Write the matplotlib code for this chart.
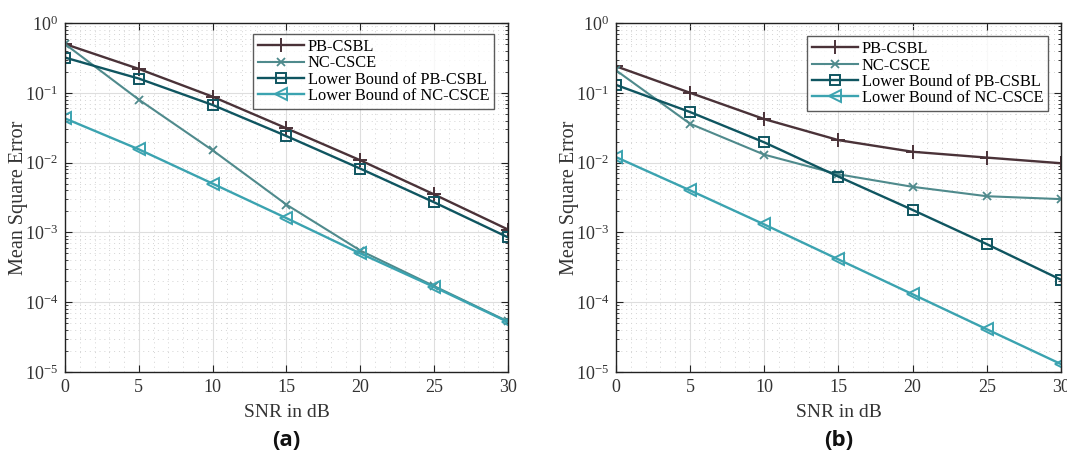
import matplotlib
matplotlib.use("Agg")
import matplotlib.pyplot as plt
from matplotlib.ticker import LogLocator, NullFormatter, FuncFormatter
import numpy as np

snr = [0, 5, 10, 15, 20, 25, 30]

# panel (a)
a_pb = [0.50, 0.22, 0.088, 0.031, 0.0108, 0.0035, 0.0011]
a_nc = [0.50, 0.080, 0.015, 0.0025, 0.00055, 0.00017, 5.3e-5]
a_lb_pb = [0.32, 0.16, 0.067, 0.024, 0.0082, 0.0027, 0.00085]
a_lb_nc = [0.043, 0.0155, 0.0050, 0.0016, 0.00050, 0.000165, 5.2e-5]

# panel (b)
b_pb = [0.24, 0.10, 0.042, 0.021, 0.0143, 0.0118, 0.0098]
b_nc = [0.21, 0.036, 0.013, 0.0068, 0.0045, 0.0033, 0.0030]
b_lb_pb = [0.13, 0.053, 0.0195, 0.0063, 0.0021, 0.00068, 0.00021]
b_lb_nc = [0.012, 0.0040, 0.0013, 0.00041, 0.00013, 4.1e-5, 1.3e-5]

labels = ["PB-CSBL", "NC-CSCE", "Lower Bound of PB-CSBL", "Lower Bound of NC-CSCE"]

plt.rcParams["font.family"] = ["Liberation Serif", "DejaVu Serif"]
plt.rcParams["mathtext.fontset"] = "custom"
plt.rcParams["mathtext.rm"] = "Liberation Serif"
plt.rcParams["mathtext.it"] = "Liberation Serif:italic"

styles = [
    dict(color="#4a3238", marker="+", ms=10, mew=1.4, lw=1.7),
    dict(color="#4f8a8c", marker="x", ms=5.5, mew=1.3, lw=1.5),
    dict(color="#0f5560", marker="s", ms=6.5, mew=1.4, mfc="none", lw=1.7),
    dict(color="#3ba3b0", marker="<", ms=9, mew=1.4, mfc="none", lw=1.7),
]


def pow_label(v, pos):
    k = int(round(np.log10(v)))
    return r"$\mathregular{10^{%d}}$" % k


fig = plt.figure(figsize=(10.67, 4.55), dpi=100)
ax_a = fig.add_axes([0.0609, 0.1824, 0.4152, 0.767])
ax_b = fig.add_axes([0.5773, 0.1824, 0.4170, 0.767])

panels = [
    (ax_a, [a_pb, a_nc, a_lb_pb, a_lb_nc], "(a)", (0.424, 0.968)),
    (ax_b, [b_pb, b_nc, b_lb_pb, b_lb_nc], "(b)", (0.429, 0.962)),
]

for ax, series, tag, anchor in panels:
    for ys, lab, st in zip(series, labels, styles):
        ax.plot(snr, ys, label=lab, **st)
    ax.set_yscale("log")
    ax.set_xlim(0, 30)
    ax.set_ylim(1e-5, 1)
    ax.set_xticks(snr)
    ax.yaxis.set_major_locator(LogLocator(base=10, numticks=10))
    ax.yaxis.set_major_formatter(FuncFormatter(pow_label))
    ax.yaxis.set_minor_locator(LogLocator(base=10, subs=range(2, 10), numticks=20))
    ax.yaxis.set_minor_formatter(NullFormatter())
    ax.set_xticks([v for v in range(31) if v % 5], minor=True)
    ax.grid(True, which="major", color="#dedede", lw=0.8, ls="-")
    ax.grid(True, which="minor", color="#d4d4d4", lw=0.7, ls=(0, (1, 4)))
    ax.set_axisbelow(True)
    ax.tick_params(which="both", direction="in", top=True, right=True,
                   labelsize=13, colors="#222222", labelcolor="#333333")
    ax.tick_params(which="major", length=5, pad=5)
    ax.tick_params(which="minor", length=2.5)
    ax.tick_params(axis="x", which="minor", length=0)
    for sp in ax.spines.values():
        sp.set_color("#222222")
        sp.set_linewidth(1.0)
    ax.set_xlabel("SNR in dB", fontsize=14, color="#333333", labelpad=6)
    ax.set_ylabel("Mean Square Error", fontsize=14.5, color="#333333")
    ax.yaxis.set_label_coords(-0.083, 0.5)
    leg = ax.legend(loc="upper left", bbox_to_anchor=anchor,
                    fontsize=11.8, frameon=True, fancybox=False,
                    handlelength=2.8, handletextpad=0.25, borderpad=0.3,
                    labelspacing=0.02, borderaxespad=0.0)
    leg.get_frame().set_edgecolor("#333333")
    leg.get_frame().set_linewidth(1.0)
    ax.text(0.5, -0.195, tag, transform=ax.transAxes, ha="center", va="center",
            fontsize=16, fontweight="bold", family=["Open Sans", "DejaVu Sans"],
            color="#111111")

fig.savefig("out.png", facecolor="white")
